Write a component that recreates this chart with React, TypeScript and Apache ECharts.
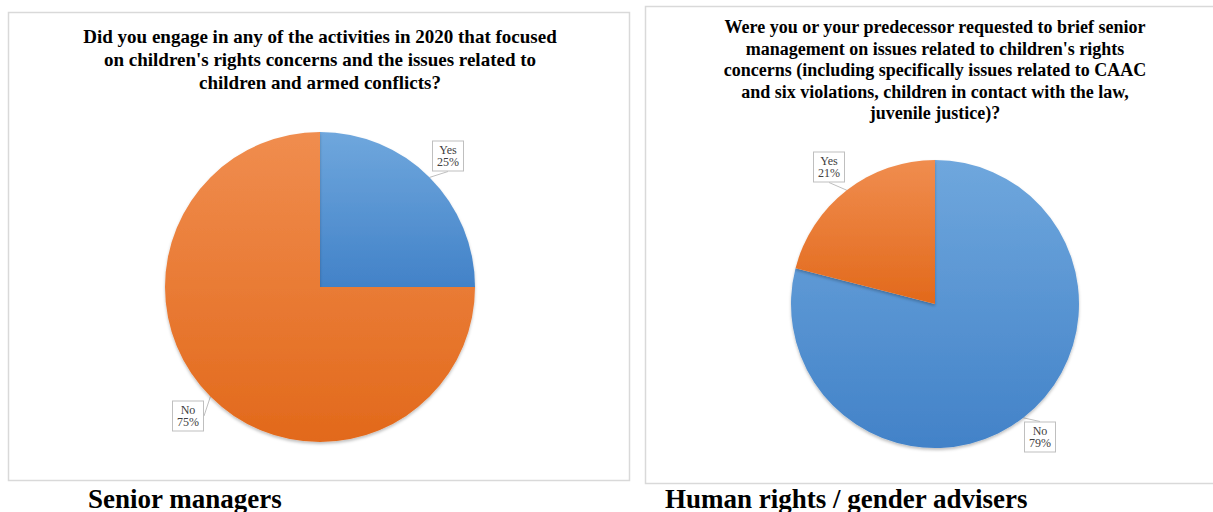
import React, { useEffect, useRef } from "react";
import * as echarts from "echarts";

// Survey answers, left panel (senior managers)
const seniorCategories = ["Yes", "No"];
const seniorValues = [25, 75];
// Survey answers, right panel (human rights / gender advisers)
const advisersCategories = ["No", "Yes"];
const advisersValues = [79, 21];

const seniorTitleLines = [
  "Did you engage in any of the activities in 2020 that focused",
  "on children's rights concerns and the issues related to",
  "children and armed conflicts?",
];
const advisersTitleLines = [
  "Were you or your predecessor requested to brief senior",
  "management on issues related to children's rights",
  "concerns (including specifically issues related to CAAC",
  "and six violations, children in contact with the law,",
  "juvenile justice)?",
];
const captions = ["Senior managers", "Human rights / gender advisers"];

const SERIF = "Liberation Serif";

const blue = new echarts.graphic.LinearGradient(0, 0, 0, 1, [
  { offset: 0, color: "#6fa7dd" },
  { offset: 1, color: "#4282c8" },
]);
const orange = new echarts.graphic.LinearGradient(0, 0, 0, 1, [
  { offset: 0, color: "#f08d4f" },
  { offset: 1, color: "#e2691b" },
]);

const labelStyle = {
  show: true,
  formatter: "{b}\n{d}%",
  fontFamily: SERIF,
  fontSize: 12,
  color: "#404040",
  backgroundColor: "#ffffff",
  borderColor: "#bfbfbf",
  borderWidth: 1,
  padding: [3, 4, 2, 4],
  align: "center",
};

const sliceShadow = {
  shadowBlur: 3,
  shadowColor: "rgba(0,0,0,0.25)",
  shadowOffsetY: 2,
};

// Each title line is its own centred text element
const titleText = (lines: string[], cx: number, y0: number, step: number, size: number) =>
  lines.map((line, i) => ({
    type: "text",
    x: cx,
    y: y0 + i * step - size / 2,
    style: {
      text: line,
      font: `bold ${size}px ${SERIF}`,
      fill: "#000",
      align: "center",
    },
  }));

export default function App() {
  const ref = useRef<HTMLDivElement>(null);

  useEffect(() => {
    document.body.style.margin = "0";
    const chart = echarts.init(ref.current!, null, { renderer: "svg" });

    const seniorLabelPos = [
      [448, 156],
      [188, 416],
    ];
    const advisersLabelPos = [
      [1040, 437],
      [829, 167],
    ];

    chart.setOption({
      animation: false,
      backgroundColor: "#ffffff",
      graphic: [
        ...titleText(seniorTitleLines, 320, 36, 23, 19),
        ...titleText(advisersTitleLines, 935, 27, 21.5, 18),
        {
          type: "text",
          x: 88,
          y: 485,
          style: {
            text: captions[0],
            font: `bold 27px ${SERIF}`,
            fill: "#000",
          },
        },
        {
          type: "text",
          x: 665,
          y: 485,
          style: {
            text: captions[1],
            font: `bold 27px ${SERIF}`,
            fill: "#000",
          },
        },
        {
          type: "rect",
          shape: { x: 8.5, y: 12.5, width: 621, height: 468 },
          style: { fill: "none", stroke: "#d9d9d9", lineWidth: 1.5 },
          z: -1,
        },
        {
          type: "rect",
          shape: { x: 645.5, y: 6.5, width: 600, height: 477 },
          style: { fill: "none", stroke: "#d9d9d9", lineWidth: 1.5 },
          z: -1,
        },
      ],
      series: [
        {
          type: "pie",
          center: [320, 287],
          radius: 155,
          startAngle: 90,
          clockwise: true,
          data: seniorCategories.map((name, i) => ({
            name,
            value: seniorValues[i],
            itemStyle: { color: i === 0 ? blue : orange, ...sliceShadow },
          })),
          label: labelStyle,
          labelLine: {
            show: true,
            length: 8,
            length2: 0,
            lineStyle: { color: "#bfbfbf", width: 1 },
          },
          labelLayout: (p: any) => ({
            x: seniorLabelPos[p.dataIndex][0],
            y: seniorLabelPos[p.dataIndex][1],
            align: "center",
            verticalAlign: "middle",
          }),
          emphasis: { disabled: true },
        },
        {
          type: "pie",
          center: [935, 304],
          radius: 144,
          startAngle: 90,
          clockwise: true,
          data: advisersCategories.map((name, i) => ({
            name,
            value: advisersValues[i],
            itemStyle: { color: i === 0 ? blue : orange, ...sliceShadow },
          })),
          label: labelStyle,
          labelLine: {
            show: true,
            length: 8,
            length2: 0,
            lineStyle: { color: "#bfbfbf", width: 1 },
          },
          labelLayout: (p: any) => ({
            x: advisersLabelPos[p.dataIndex][0],
            y: advisersLabelPos[p.dataIndex][1],
            align: "center",
            verticalAlign: "middle",
          }),
          emphasis: { disabled: true },
        },
      ],
    });

    return () => chart.dispose();
  }, []);

  return (
    <div
      ref={ref}
      style={{ position: "absolute", left: 0, top: 0, width: 1213, height: 512 }}
    />
  );
}
